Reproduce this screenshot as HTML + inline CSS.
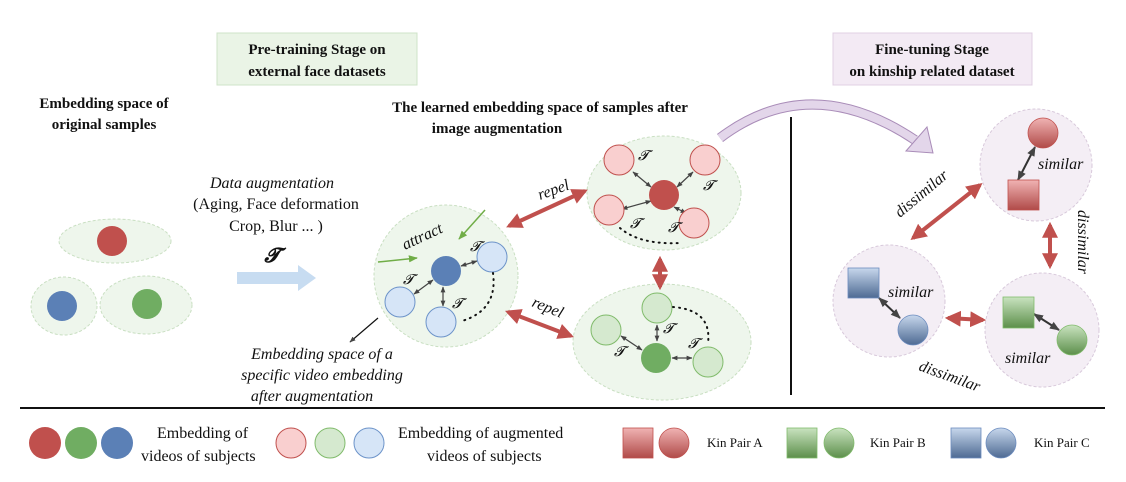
<!DOCTYPE html>
<html><head><meta charset="utf-8"><style>
html,body{margin:0;padding:0;background:#fff}
svg{display:block}
text{font-family:"Liberation Serif",serif;fill:#111}
.b{font-weight:bold;font-size:15px}
.i{font-style:italic;font-size:16px}
.l{font-size:16px}
</style></head><body>
<svg width="1126" height="482" viewBox="0 0 1126 482" xmlns="http://www.w3.org/2000/svg">
<defs>
<marker id="ra" viewBox="0 0 10 10" refX="8" refY="5" markerWidth="4" markerHeight="4" orient="auto-start-reverse"><path d="M0,0L10,5L0,10z" fill="#c0504d"/></marker>
<marker id="ka" viewBox="0 0 10 10" refX="9" refY="5" markerWidth="5" markerHeight="5" orient="auto-start-reverse"><path d="M0,1L10,5L0,9z" fill="#444"/></marker>
<marker id="ga" viewBox="0 0 10 10" refX="9" refY="5" markerWidth="6" markerHeight="6" orient="auto"><path d="M0,1L10,5L0,9z" fill="#70ad47"/></marker>
<linearGradient id="gr" x1="0" y1="0" x2="0" y2="1"><stop offset="0" stop-color="#f0b3b3"/><stop offset="1" stop-color="#b04a48"/></linearGradient>
<linearGradient id="gg" x1="0" y1="0" x2="0" y2="1"><stop offset="0" stop-color="#c9e3c0"/><stop offset="1" stop-color="#5c8f4a"/></linearGradient>
<linearGradient id="gb" x1="0" y1="0" x2="0" y2="1"><stop offset="0" stop-color="#c7d7ec"/><stop offset="1" stop-color="#4e6a93"/></linearGradient>
</defs>

<rect x="217" y="33" width="200" height="52" fill="#eaf4e6" stroke="#cfe3c8"/>
<text class="b" x="317" y="54" text-anchor="middle">Pre-training Stage on</text>
<text class="b" x="317" y="76" text-anchor="middle">external face datasets</text>
<rect x="833" y="33" width="199" height="52" fill="#f3eaf4" stroke="#e0d0e3"/>
<text class="b" x="932" y="54" text-anchor="middle">Fine-tuning Stage</text>
<text class="b" x="932" y="76" text-anchor="middle">on kinship related dataset</text>

<text class="b" x="104" y="108" text-anchor="middle">Embedding space of</text>
<text class="b" x="104" y="129" text-anchor="middle">original samples</text>
<text class="b" x="540" y="112" text-anchor="middle">The learned embedding space of samples after</text>
<text class="b" x="497" y="133" text-anchor="middle">image augmentation</text>

<g fill="#eef6ec" stroke="#c9dfc2" stroke-dasharray="3,2">
<ellipse cx="115" cy="241" rx="56" ry="22"/>
<ellipse cx="64" cy="306" rx="33" ry="29"/>
<ellipse cx="146" cy="305" rx="46" ry="29"/>
</g>
<circle cx="112" cy="241" r="15" fill="#c0504d"/>
<circle cx="62" cy="306" r="15" fill="#5b80b6"/>
<circle cx="147" cy="304" r="15" fill="#70ad62"/>

<text class="i" x="272" y="188" text-anchor="middle">Data augmentation</text>
<text class="l" x="276" y="209" text-anchor="middle">(Aging, Face deformation</text>
<text class="l" x="276" y="231" text-anchor="middle">Crop, Blur ... )</text>
<text x="272" y="262" text-anchor="middle" style="font-style:italic;font-weight:bold;font-size:20px">𝓣</text>
<path d="M237,272 L298,272 L298,265 L316,278 L298,291 L298,284 L237,284z" fill="#c7dcf1"/>

<g fill="#eef6ec" stroke="#c9dfc2" stroke-dasharray="3,2">
<ellipse cx="446" cy="276" rx="72" ry="71"/>
<ellipse cx="664" cy="193" rx="77" ry="57"/>
<ellipse cx="662" cy="342" rx="89" ry="58"/>
</g>
<g stroke="#c0504d" stroke-width="4" fill="none" marker-start="url(#ra)" marker-end="url(#ra)">
<line x1="509" y1="226" x2="585" y2="191"/>
<line x1="508" y1="312" x2="571" y2="336"/>
<line x1="660" y1="259" x2="660" y2="287"/>
</g>
<text class="i" x="540" y="200" transform="rotate(-20 540 200)">repel</text>
<text class="i" x="531" y="306" transform="rotate(22 531 306)">repel</text>

<g stroke="#444" stroke-width="1.2" marker-start="url(#ka)" marker-end="url(#ka)">
<line x1="461" y1="266" x2="477" y2="261"/>
<line x1="433" y1="280" x2="414" y2="294"/>
<line x1="443" y1="287" x2="443" y2="306"/>
</g>
<line x1="378" y1="262" x2="417" y2="258" stroke="#70ad47" stroke-width="1.5" marker-end="url(#ga)"/>
<line x1="485" y1="210" x2="459" y2="239" stroke="#70ad47" stroke-width="1.5" marker-end="url(#ga)"/>
<text class="i" x="405" y="250" transform="rotate(-25 405 250)">attract</text>
<circle cx="446" cy="271" r="15" fill="#5b80b6"/>
<g fill="#d6e5f7" stroke="#6c93c9">
<circle cx="492" cy="257" r="15"/><circle cx="400" cy="302" r="15"/><circle cx="441" cy="322" r="15"/>
</g>
<path d="M493,273 Q498,310 462,321" fill="none" stroke="#111" stroke-width="2" stroke-dasharray="1,5" stroke-linecap="round"/>
<g style="font-style:italic;font-size:14px">
<text x="470" y="251">𝓣</text><text x="403" y="284">𝓣</text><text x="452" y="308">𝓣</text>
</g>
<line x1="378" y1="318" x2="350" y2="342" stroke="#111" stroke-width="1.2" marker-end="url(#ka)"/>
<text class="i" x="322" y="359" text-anchor="middle">Embedding space of a</text>
<text class="i" x="322" y="380" text-anchor="middle">specific video embedding</text>
<text class="i" x="312" y="401" text-anchor="middle">after augmentation</text>

<g stroke="#444" stroke-width="1.2" marker-start="url(#ka)" marker-end="url(#ka)">
<line x1="651" y1="187" x2="633" y2="172"/>
<line x1="677" y1="187" x2="693" y2="172"/>
<line x1="651" y1="201" x2="622" y2="209"/>
<line x1="674" y1="207" x2="686" y2="213"/>
</g>
<circle cx="664" cy="195" r="15" fill="#c0504d"/>
<g fill="#f9cfcf" stroke="#c0504d">
<circle cx="619" cy="160" r="15"/><circle cx="705" cy="160" r="15"/><circle cx="609" cy="210" r="15"/><circle cx="694" cy="223" r="15"/>
</g>
<path d="M620,228 Q640,245 680,243" fill="none" stroke="#111" stroke-width="2" stroke-dasharray="1,5" stroke-linecap="round"/>
<g style="font-style:italic;font-size:14px">
<text x="638" y="160">𝓣</text><text x="703" y="190">𝓣</text><text x="630" y="228">𝓣</text><text x="668" y="232">𝓣</text>
</g>

<g stroke="#444" stroke-width="1.2" marker-start="url(#ka)" marker-end="url(#ka)">
<line x1="657" y1="325" x2="657" y2="341"/>
<line x1="621" y1="336" x2="642" y2="350"/>
<line x1="672" y1="358" x2="692" y2="358"/>
</g>
<circle cx="656" cy="358" r="15" fill="#70ad62"/>
<g fill="#d5e9cf" stroke="#80bb6b">
<circle cx="657" cy="308" r="15"/><circle cx="606" cy="330" r="15"/><circle cx="708" cy="362" r="15"/>
</g>
<path d="M673,307 Q712,310 708,343" fill="none" stroke="#111" stroke-width="2" stroke-dasharray="1,5" stroke-linecap="round"/>
<g style="font-style:italic;font-size:14px">
<text x="663" y="333">𝓣</text><text x="614" y="356">𝓣</text><text x="688" y="348">𝓣</text>
</g>

<!-- purple curved arrow -->
<path d="M720,138 Q810,70 915,140" fill="none" stroke="#a98cb8" stroke-width="10"/>
<path d="M720,138 Q810,70 915,140" fill="none" stroke="#e3d6ea" stroke-width="8"/>
<path d="M906,151 L933,153 L927,127z" fill="#e3d6ea" stroke="#a98cb8" stroke-width="1"/>

<line x1="791" y1="117" x2="791" y2="395" stroke="#111" stroke-width="2"/>

<g fill="#f4eef5" stroke="#d8c9db" stroke-dasharray="3,2">
<circle cx="1036" cy="165" r="56"/>
<circle cx="889" cy="301" r="56"/>
<circle cx="1042" cy="330" r="57"/>
</g>
<g stroke="#c0504d" stroke-width="4" fill="none" marker-start="url(#ra)" marker-end="url(#ra)">
<line x1="980" y1="185" x2="913" y2="238"/>
<line x1="1050" y1="225" x2="1050" y2="266"/>
<line x1="948" y1="318" x2="983" y2="320"/>
</g>
<g stroke="#333" stroke-width="2" marker-start="url(#ka)" marker-end="url(#ka)">
<line x1="1035" y1="147" x2="1018" y2="180"/>
<line x1="879" y1="298" x2="900" y2="318"/>
<line x1="1034" y1="314" x2="1059" y2="330"/>
</g>
<circle cx="1043" cy="133" r="15" fill="url(#gr)" stroke="#c0504d" stroke-width="0.8"/>
<rect x="1008" y="180" width="31" height="30" fill="url(#gr)" stroke="#c0504d" stroke-width="0.8"/>
<rect x="848" y="268" width="31" height="30" fill="url(#gb)" stroke="#6c8cbf" stroke-width="0.8"/>
<circle cx="913" cy="330" r="15" fill="url(#gb)" stroke="#6c8cbf" stroke-width="0.8"/>
<rect x="1003" y="297" width="31" height="31" fill="url(#gg)" stroke="#80bb6b" stroke-width="0.8"/>
<circle cx="1072" cy="340" r="15" fill="url(#gg)" stroke="#80bb6b" stroke-width="0.8"/>
<text class="i" x="1038" y="169">similar</text>
<text class="i" x="888" y="297">similar</text>
<text class="i" x="1005" y="363">similar</text>
<text class="i" x="900" y="218" transform="rotate(-40 900 218)">dissimilar</text>
<text class="i" x="1078" y="210" transform="rotate(90 1078 210)">dissimilar</text>
<text class="i" x="918" y="370" transform="rotate(20 918 370)">dissimilar</text>

<line x1="20" y1="408" x2="1105" y2="408" stroke="#111" stroke-width="2"/>

<circle cx="45" cy="443" r="16" fill="#c0504d"/>
<circle cx="81" cy="443" r="16" fill="#70ad62"/>
<circle cx="117" cy="443" r="16" fill="#5b80b6"/>
<text class="l" x="157" y="438">Embedding of</text>
<text class="l" x="141" y="461">videos of subjects</text>
<g stroke-width="1">
<circle cx="291" cy="443" r="15" fill="#f9cfcf" stroke="#c0504d"/>
<circle cx="330" cy="443" r="15" fill="#d5e9cf" stroke="#80bb6b"/>
<circle cx="369" cy="443" r="15" fill="#d6e5f7" stroke="#6c93c9"/>
</g>
<text class="l" x="398" y="438">Embedding of augmented</text>
<text class="l" x="427" y="461">videos of subjects</text>
<rect x="623" y="428" width="30" height="30" fill="url(#gr)" stroke="#c0504d" stroke-width="0.8"/>
<circle cx="674" cy="443" r="15" fill="url(#gr)" stroke="#c0504d" stroke-width="0.8"/>
<text x="707" y="447" style="font-size:13px">Kin Pair A</text>
<rect x="787" y="428" width="30" height="30" fill="url(#gg)" stroke="#80bb6b" stroke-width="0.8"/>
<circle cx="839" cy="443" r="15" fill="url(#gg)" stroke="#80bb6b" stroke-width="0.8"/>
<text x="870" y="447" style="font-size:13px">Kin Pair B</text>
<rect x="951" y="428" width="30" height="30" fill="url(#gb)" stroke="#6c8cbf" stroke-width="0.8"/>
<circle cx="1001" cy="443" r="15" fill="url(#gb)" stroke="#6c8cbf" stroke-width="0.8"/>
<text x="1034" y="447" style="font-size:13px">Kin Pair C</text>
</svg>
</body></html>
